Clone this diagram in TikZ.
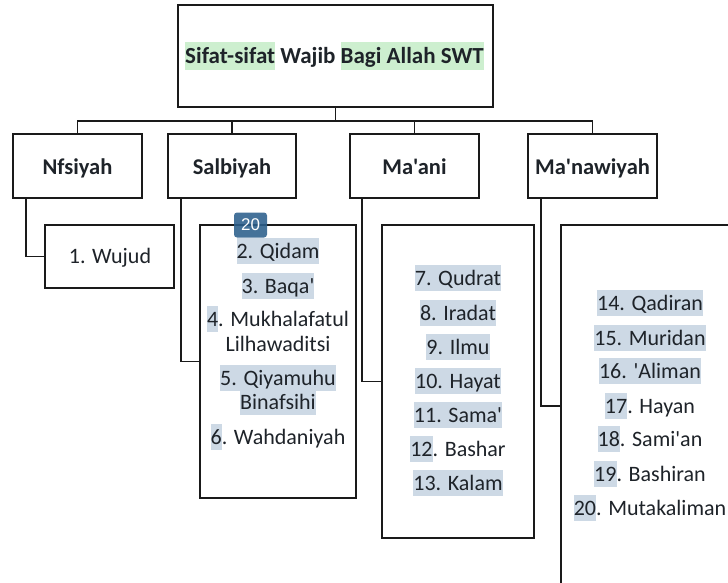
\documentclass[tikz,border=0pt]{standalone}
\usepackage{fontspec}
\setmainfont{Carlito}[Ligatures=TeXOff]
\newfontfamily\badgefont{Liberation Sans}
\definecolor{linec}{HTML}{1A1A1A}
\definecolor{txtc}{HTML}{1E2329}
\definecolor{hlblue}{HTML}{CDD9E5}
\definecolor{hlgreen}{HTML}{CDEFCF}
\definecolor{badgec}{HTML}{2B5F8C}
\newcommand{\lstrut}{\rule[-0.28em]{0pt}{1.21em}}
\newcommand{\hlb}[1]{{\setlength{\fboxsep}{0pt}\colorbox{hlblue}{\lstrut#1}}}
\newcommand{\hlg}[1]{{\setlength{\fboxsep}{0pt}\colorbox{hlgreen}{\lstrut#1}}}
\begin{document}
\begin{tikzpicture}[x=1pt,y=-1pt,
  box/.style={draw=linec, line width=1.6pt, inner sep=0pt, fill=white},
  conn/.style={draw=linec, line width=1.6pt, line join=miter},
  lbl/.style={inner sep=0pt, text=txtc, font=\fontsize{22.5}{24}\selectfont\bfseries},
  item/.style={inner sep=0pt, text=txtc, font=\fontsize{22}{24}\selectfont, anchor=center}]
\useasboundingbox (0,0) rectangle (728,583);
\clip (0,0) rectangle (728,583);
% title
\node[box, minimum width=315pt, minimum height=102pt] (title) at (335.5,56) {};
\node[lbl, font=\fontsize{23}{24}\selectfont\bfseries] (ttext) at (334.5,56) {\lstrut\hlg{Sifat-sifat} Wajib \hlg{Bagi Allah SWT}};
% level 2
\node[box, minimum width=129pt, minimum height=64pt] (nfs) at (77.5,166) {};
\node[box, minimum width=128pt, minimum height=64pt] (sal) at (232,166) {};
\node[box, minimum width=129pt, minimum height=64pt] (man) at (414.5,166) {};
\node[box, minimum width=129pt, minimum height=64pt] (maw) at (592.5,166) {};
\node[lbl] (nfst) at ([yshift=-1.5pt]nfs.center) {\lstrut Nfsiyah};
\node[lbl] (salt) at ([yshift=-1.5pt]sal.center) {\lstrut Salbiyah};
\node[lbl] (mant) at ([yshift=-1.5pt]man.center) {\lstrut Ma'ani};
\node[lbl] (mawt) at ([yshift=-1.5pt]maw.center) {\lstrut Ma'nawiyah};
% children boxes
\node[box, minimum width=129pt, minimum height=63pt] (wuj) at (109.5,256.5) {};
\node[box, minimum width=156pt, minimum height=273pt] (sall) at (278,361.5) {};
\node[box, minimum width=152pt, minimum height=313pt] (manl) at (458,381.5) {};
\node[box, minimum width=239pt, minimum height=362pt] (mawl) at (680.5,406) {};
% connectors
\coordinate (bus) at (0,121);
\draw[conn] (title.south) -- (title.south |- bus);
\draw[conn] (nfs.north) -- (nfs.north |- bus) -- (maw.north |- bus) -- (maw.north);
\draw[conn] (sal.north) -- (sal.north |- bus);
\draw[conn] (man.north) -- (man.north |- bus);
\draw[conn] ([xshift=14pt]nfs.south west) |- (wuj.west);
\draw[conn] ([xshift=14pt]sal.south west) |- (sall.west);
\draw[conn] ([xshift=13pt]man.south west) |- (manl.west);
\draw[conn] ([xshift=14pt]maw.south west) |- (mawl.west);
% Nafsiyah item
\node[item] (i1) at (110,256) {\lstrut 1. Wujud};
% Salbiyah items
\node[item] (i2) at (278,251) {\hlb{2. Qidam}};
\node[item] (i3) at (278,286) {\hlb{3. Baqa'}};
\node[item] (i4a) at (278,319) {\lstrut\hlb{4}. Mukhalafatul};
\node[item] (i4b) at (278,344) {\lstrut Lilhawaditsi};
\node[item] (i5a) at (278,378) {\hlb{5. Qiyamuhu}};
\node[item] (i5b) at (278,402) {\hlb{Binafsihi}};
\node[item] (i6) at (278,437) {\lstrut\hlb{6}. Wahdaniyah};
% badge
\node[fill=badgec, fill opacity=0.88, text opacity=1, text=white, rounded corners=3pt,
  minimum width=33pt, minimum height=25pt, inner sep=0pt,
  font=\badgefont\fontsize{17}{17}\selectfont] (badge) at (250.5,225) {20};
% Ma'ani items
\node[item] (i7) at (458,278) {\hlb{7. Qudrat}};
\node[item] (i8) at (458,313) {\hlb{8. Iradat}};
\node[item] (i9) at (458,347) {\hlb{9. Ilmu}};
\node[item] (i10) at (458,381) {\hlb{10. Hayat}};
\node[item] (i11) at (458,415) {\hlb{11. Sama'}};
\node[item] (i12) at (458,449) {\lstrut\hlb{12}. Bashar};
\node[item] (i13) at (458,483) {\hlb{13. Kalam}};
% Ma'nawiyah items
\node[item] (i14) at (650,303) {\hlb{14. Qadiran}};
\node[item] (i15) at (650,338) {\hlb{15. Muridan}};
\node[item] (i16) at (650,371) {\hlb{16. 'Aliman}};
\node[item] (i17) at (650,406) {\lstrut\hlb{17}. Hayan};
\node[item] (i18) at (650,439) {\lstrut\hlb{18}. Sami'an};
\node[item] (i19) at (650,474) {\lstrut\hlb{19}. Bashiran};
\node[item] (i20) at (650,508) {\lstrut\hlb{20}. Mutakaliman};
\end{tikzpicture}
\end{document}
